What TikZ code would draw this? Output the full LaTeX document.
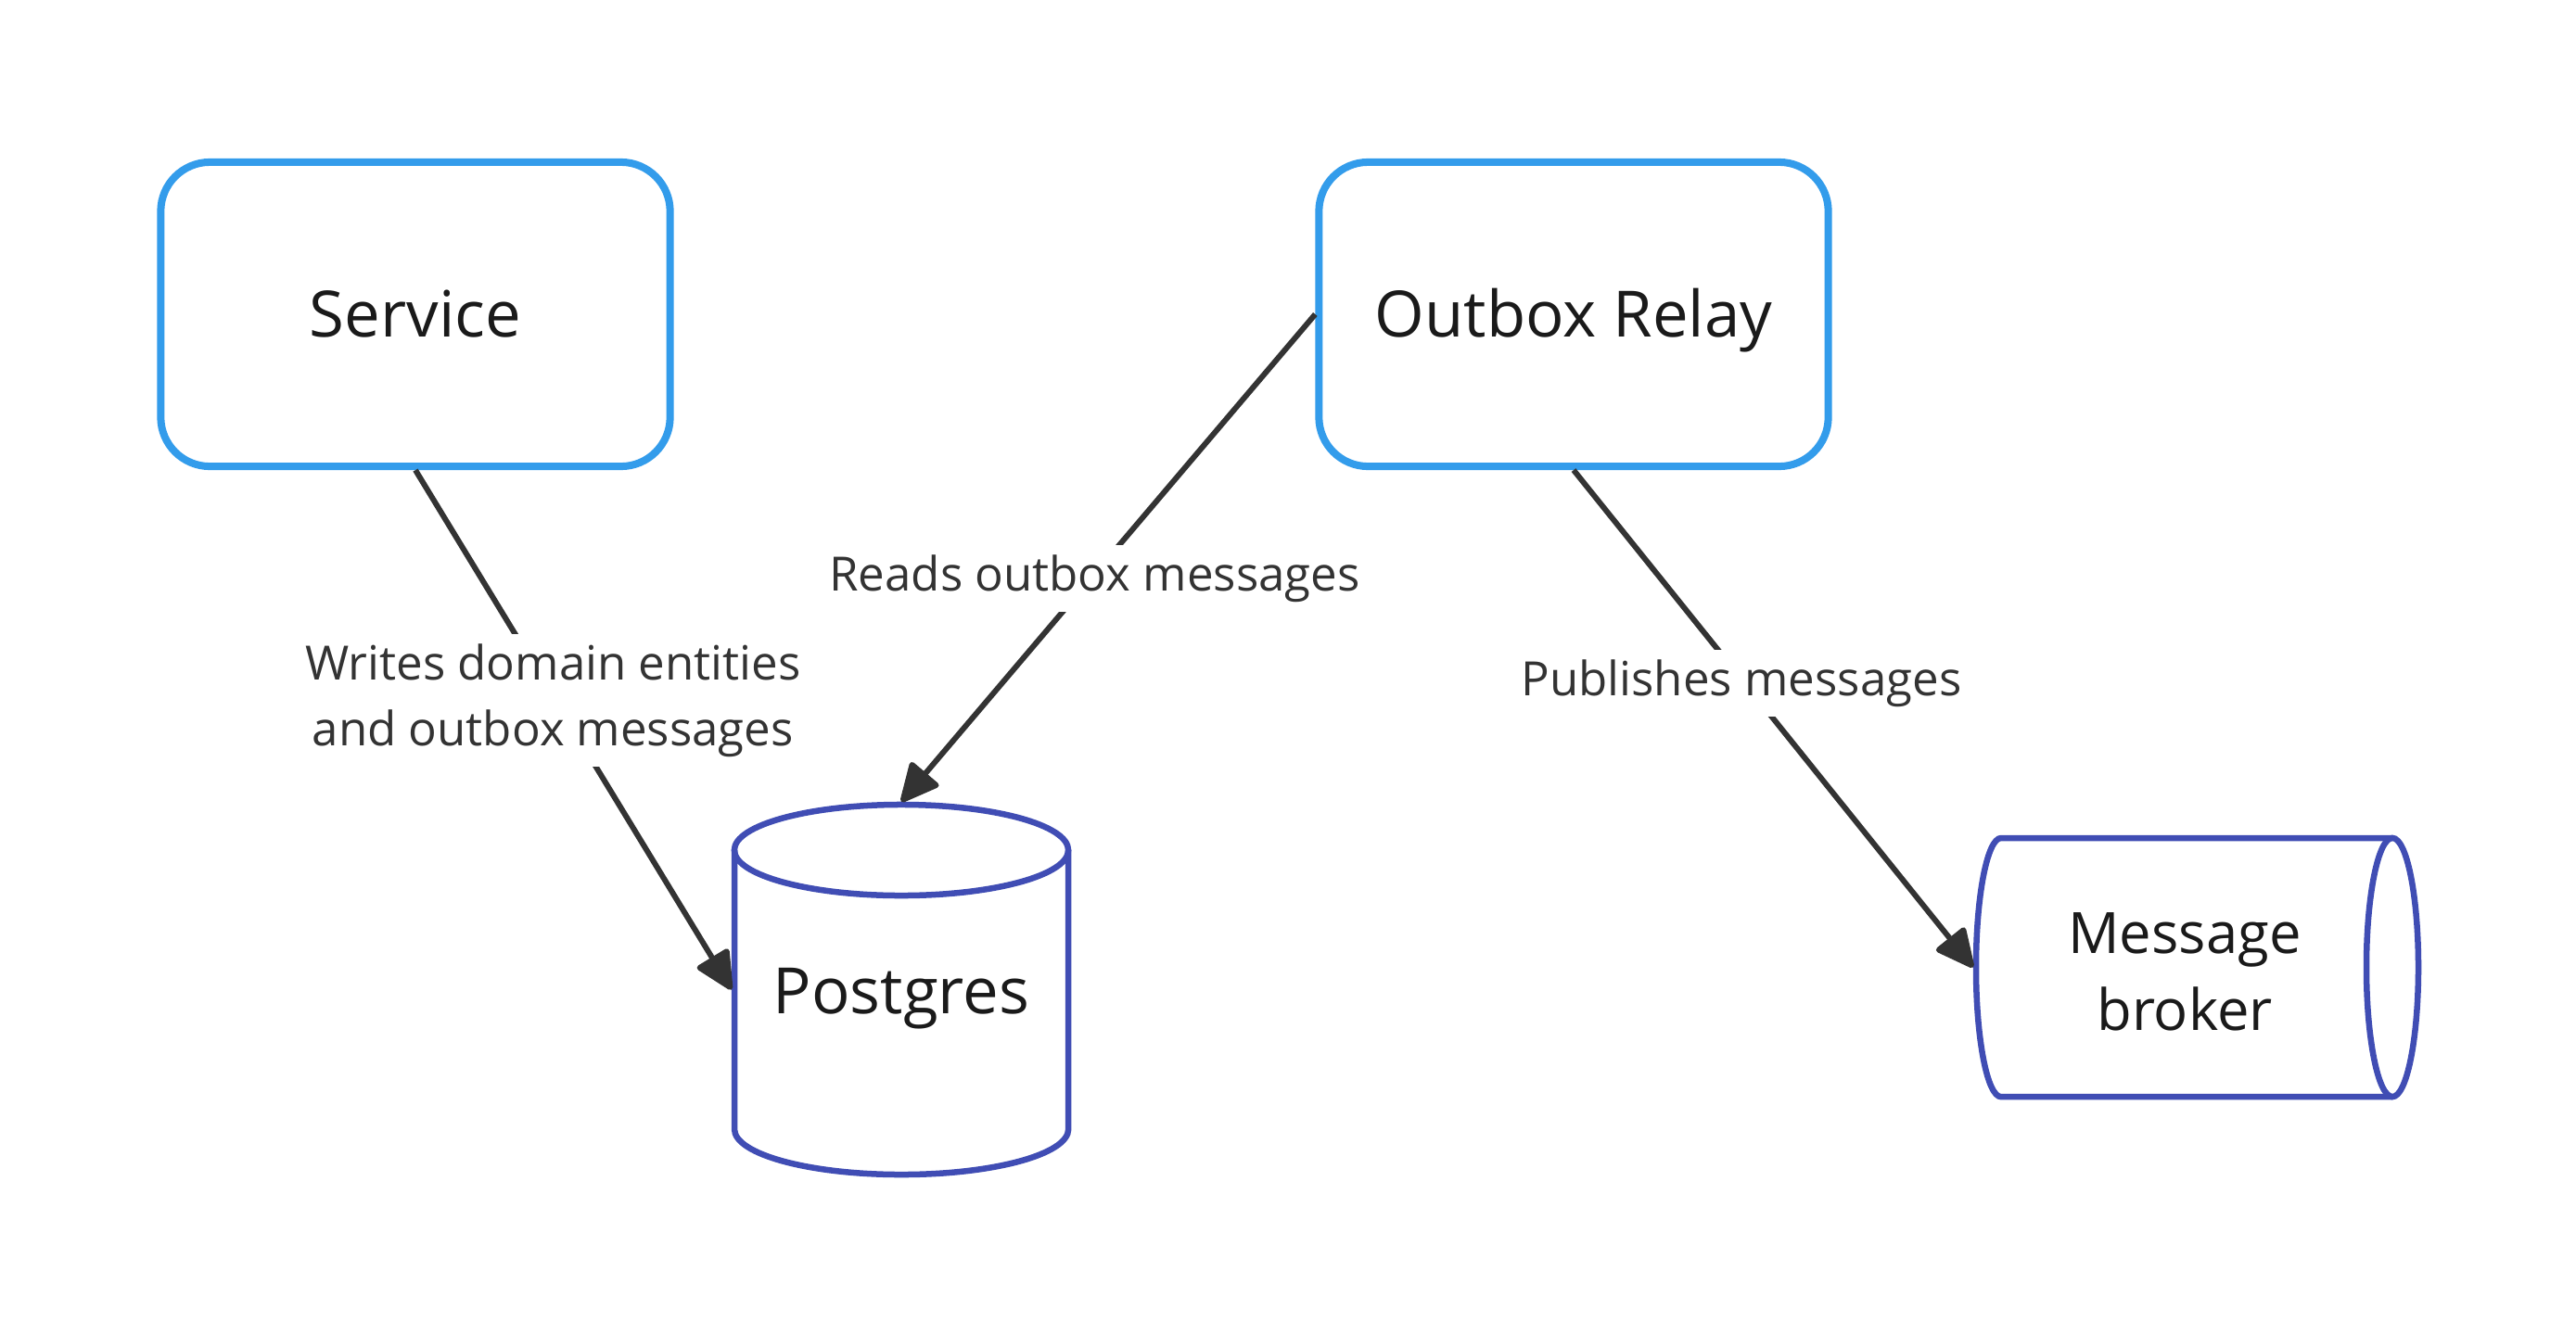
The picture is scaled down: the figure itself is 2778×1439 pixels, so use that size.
\documentclass[tikz,border=0pt]{standalone}
\usepackage{fontspec}
\setmainfont{Open Sans}
\usetikzlibrary{arrows.meta}
\definecolor{boxblue}{HTML}{339CEB}
\definecolor{cylblue}{HTML}{404DB4}
\definecolor{linegray}{HTML}{333333}
\definecolor{txt}{HTML}{1A1A1A}
\begin{document}
\begin{tikzpicture}[x=0.01cm,y=-0.01cm,
  svc/.style={draw=boxblue, line width=0.08cm, rounded corners=0.53cm, minimum width=5.49cm, minimum height=3.28cm, font=\fontsize{19.6}{24}\selectfont, text=txt, text height=14pt, text depth=0pt},
  holder/.style={draw=none, inner sep=0pt, outer sep=0pt},
  conn/.style={draw=linegray, line width=0.06cm, -{Triangle[length=0.45cm,width=0.42cm,round]}},
  lbl/.style={fill=white, text=linegray, font=\fontsize{14.5}{20.2}\selectfont, align=center, inner sep=3pt, yshift=-0.05cm},
  cyl/.style={draw=cylblue, line width=0.065cm},
  cyltext/.style={text=txt, font=\fontsize{19.6}{23.6}\selectfont, align=center}
]
\useasboundingbox[fill=white] (0,0) rectangle (2778,1439);

% boxes
\node[svc] (service) at (448,339) {Service};
\node[svc] (relay) at (1697,339) {Outbox Relay};

% Postgres cylinder
\draw[cyl] (792,917) -- (792,1218) arc[start angle=180, end angle=360, x radius=1.8cm, y radius=0.49cm] -- (1152,917);
\draw[cyl] (972,917) ellipse[x radius=1.8cm, y radius=0.49cm];
\node[holder, minimum width=3.66cm, minimum height=4.05cm] (pg) at (972,1067.5) {};
\node[cyltext] (pgtext) at (972,1077) {Postgres};

% Message broker cylinder
\draw[cyl] (2580,904) -- (2158,904) arc[start angle=90, end angle=270, x radius=0.27cm, y radius=1.395cm] -- (2580,1183);
\draw[cyl] (2580,1043.5) ellipse[x radius=0.28cm, y radius=1.395cm];
\node[holder, minimum width=4.83cm, minimum height=2.85cm] (broker) at (2369.5,1043.5) {};
\node[cyltext, font=\fontsize{17.5}{23.6}\selectfont] (brokertext) at (2356,1048) {Message\\broker};

% connectors
\draw[conn] (service.south) -- node[lbl, pos=0.435] (l1) {Writes domain entities\\and outbox messages} (pg.west);
\draw[conn] (relay.west) -- node[lbl, pos=0.533] (l2) {Reads outbox messages} (pg.north);
\draw[conn] (relay.south) -- node[lbl, pos=0.42] (l3) {Publishes messages} (broker.west);
\end{tikzpicture}
\end{document}
